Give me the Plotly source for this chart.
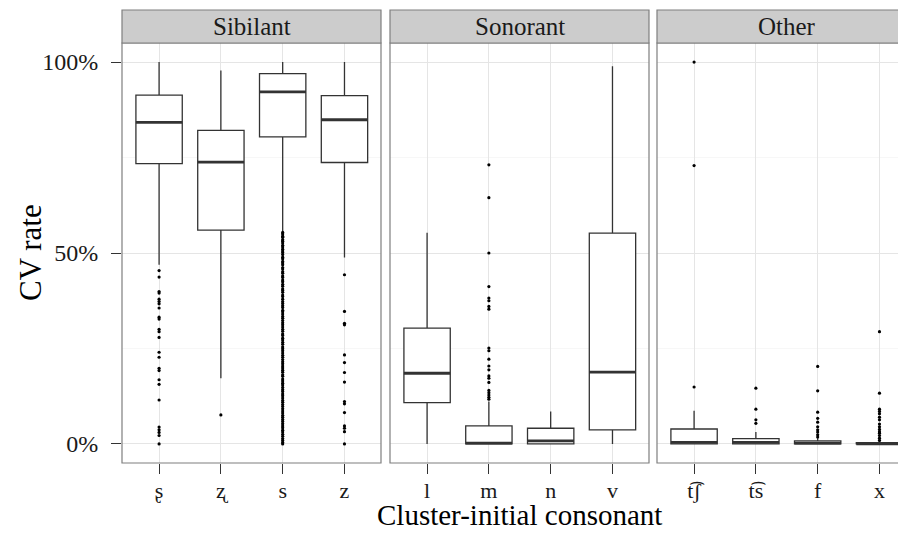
import plotly.graph_objects as go

FONT = "Liberation Serif"

facets = ["Sibilant", "Sonorant", "Other"]
labels = {
    "Sibilant": ["ʂ", "ʐ", "s", "z"],
    "Sonorant": ["l", "m", "n", "v"],
    "Other": ["t͡ʃ", "t͡s", "f", "x"],
}
# box statistics (percent)
q1 = {
    "Sibilant": [73.4, 56.0, 80.4, 73.7],
    "Sonorant": [10.8, 0.0, 0.0, 3.7],
    "Other": [0.0, 0.0, 0.0, 0.0],
}
median = {
    "Sibilant": [84.2, 73.8, 92.2, 84.9],
    "Sonorant": [18.5, 0.2, 0.8, 18.8],
    "Other": [0.4, 0.4, 0.2, 0.0],
}
q3 = {
    "Sibilant": [91.35, 82.1, 97.0, 91.2],
    "Sonorant": [30.3, 4.7, 4.1, 55.2],
    "Other": [3.9, 1.4, 0.8, 0.3],
}
lower = {
    "Sibilant": [46.9, 17.2, 55.6, 48.8],
    "Sonorant": [0.0, 0.0, 0.0, 0.0],
    "Other": [0.0, 0.0, 0.0, 0.0],
}
upper = {
    "Sibilant": [100.0, 97.8, 100.0, 100.0],
    "Sonorant": [55.3, 11.1, 8.5, 98.9],
    "Other": [8.7, 3.1, 1.5, 0.7],
}
outliers = {
    "Sibilant": [
        [45.4, 43.7, 39.9, 39.5, 37.9, 37.3, 36.7, 35.6, 33.2, 32.7, 30.0, 29.4,
         27.9, 24.0, 22.7, 19.8, 19.2, 16.8, 15.6, 11.5, 4.4, 3.7, 3.0, 2.2, 0.0],
        [7.6],
        [55.4, 55.0, 54.4, 54.1, 53.5, 53.1, 52.6, 52.0, 51.6, 51.0, 50.5, 50.1,
         49.6, 48.9, 48.5, 47.8, 47.4, 46.9, 46.2, 45.8, 45.1, 44.7, 44.0, 43.6,
         42.9, 42.5, 41.8, 41.3, 40.6, 40.2, 39.7, 39.0, 38.6, 37.9, 37.3, 36.8,
         36.2, 35.7, 35.0, 34.6, 34.0, 33.4, 32.9, 32.3, 31.7, 31.2, 30.6, 30.0,
         29.5, 28.8, 28.4, 27.7, 27.2, 26.6, 26.1, 25.4, 24.9, 24.4, 23.8, 23.2,
         22.7, 22.1, 21.5, 21.0, 20.4, 19.9, 19.3, 18.8, 18.1, 17.7, 17.0, 16.5,
         15.9, 15.4, 14.8, 14.2, 13.7, 13.1, 12.6, 12.0, 11.4, 10.9, 10.3, 9.8,
         9.2, 8.6, 8.1, 7.5, 7.0, 6.4, 5.9, 5.3, 4.7, 4.2, 3.6, 3.1, 2.5, 2.0,
         1.4, 0.9, 0.4, 0.0],
        [44.3, 34.7, 31.6, 31.2, 23.3, 21.3, 18.7, 16.2, 11.1, 10.5, 8.2, 4.7,
         4.1, 3.2, 0.0],
    ],
    "Sonorant": [
        [],
        [73.1, 64.5, 50.0, 41.2, 38.2, 37.5, 36.0, 35.3, 25.1, 24.4, 22.2, 20.4,
         19.4, 17.8, 17.2, 16.1, 14.0, 13.4, 12.8, 12.2, 11.7],
        [],
        [],
    ],
    "Other": [
        [100.0, 72.9, 14.9],
        [14.6, 9.1, 6.3, 5.4],
        [20.3, 13.9, 8.3, 6.7, 5.7, 4.5, 3.7, 3.1, 2.4, 1.8],
        [29.4, 13.3, 9.1, 8.5, 7.9, 7.0, 6.3, 5.2, 4.5, 3.8, 3.2, 2.8, 2.2, 1.5, 0.9],
    ],
}
y_ticks = [0, 50, 100]
y_ticktext = ["0%", "50%", "100%"]

# the page body has an 8px margin, so the figure is placed at (8, 8)
OFF = 8
W, H = 906 - OFF, 533 - OFF
BOX_W = 0.75
LINE = "#333333"


def px(v):
    return v - OFF


# panel geometry in (reference) pixels
px_left = [122, 390, 657]
px_right = [381, 649, 906]
panel_top, panel_bottom = 43, 463
strip_top = 10
unit = 61.8

fig = go.Figure()

for k, fac in enumerate(facets):
    xa = "x" if k == 0 else f"x{k+1}"
    ya = "y" if k == 0 else f"y{k+1}"
    pos = list(range(1, len(labels[fac]) + 1))
    fig.add_trace(go.Box(
        x=pos, q1=q1[fac], median=median[fac], q3=q3[fac],
        lowerfence=lower[fac], upperfence=upper[fac],
        width=BOX_W, whiskerwidth=0, fillcolor="white",
        line=dict(color=LINE, width=1.3), boxpoints=False,
        xaxis=xa, yaxis=ya, showlegend=False, hoverinfo="skip",
    ))
    mx, my = [], []
    for p, m in zip(pos, median[fac]):
        mx += [p - BOX_W / 2, p + BOX_W / 2, None]
        my += [m, m, None]
    fig.add_trace(go.Scatter(x=mx, y=my, mode="lines",
                             line=dict(color=LINE, width=2.8),
                             xaxis=xa, yaxis=ya, showlegend=False, hoverinfo="skip"))
    ox, oy = [], []
    for p, vals in zip(pos, outliers[fac]):
        ox += [p] * len(vals)
        oy += vals
    fig.add_trace(go.Scatter(x=ox, y=oy, mode="markers",
                             marker=dict(color="black", size=3.2),
                             xaxis=xa, yaxis=ya, showlegend=False, hoverinfo="skip"))

layout = dict(
    width=W, height=H, margin=dict(l=0, r=0, t=0, b=0),
    paper_bgcolor="white", plot_bgcolor="white",
    font=dict(family=FONT, color="black"),
    showlegend=False,
)
ydom = [(H - px(panel_bottom)) / H, (H - px(panel_top)) / H]
for k, fac in enumerate(facets):
    suffix = "" if k == 0 else str(k + 1)
    d0 = px(px_left[k]) / W
    d1 = min(px(px_right[k]) / W, 1.0)
    xmax = 0.4 + (px_right[k] - px_left[k]) / unit
    layout["xaxis" + suffix] = dict(
        domain=[d0, d1], range=[0.4, xmax],
        tickmode="array", tickvals=list(range(1, 5)), ticktext=labels[fac],
        ticks="outside", ticklen=10, tickwidth=1.3, tickcolor=LINE,
        tickfont=dict(family=FONT, size=22, color="#1a1a1a"),
        showgrid=True, gridcolor="#E5E5E5", gridwidth=1,
        zeroline=False, showline=False, anchor="y" + suffix,
        ticklabelstandoff=-2,
    )
    yd = dict(
        domain=ydom, range=[-5, 105], anchor="x" + suffix,
        tickmode="array", tickvals=y_ticks, ticktext=y_ticktext,
        showgrid=True, gridcolor="#E5E5E5", gridwidth=1,
        minor=dict(tickvals=[25, 75], showgrid=True, gridcolor="#F7F7F7", ticks=""),
        zeroline=False, showline=False,
    )
    if k == 0:
        yd.update(ticks="outside", ticklen=10, tickwidth=1.3, tickcolor=LINE,
                  tickfont=dict(family=FONT, size=24, color="#1a1a1a"),
                  ticklabelstandoff=8)
    else:
        yd.update(showticklabels=False, ticks="", matches="y")
    layout["yaxis" + suffix] = yd

shapes = []
annotations = []
for k, fac in enumerate(facets):
    x0 = px(px_left[k]) / W
    x1 = px(px_right[k]) / W if k < 2 else 1.05
    shapes.append(dict(type="rect", xref="paper", yref="paper",
                       x0=x0, x1=x1, y0=ydom[0], y1=ydom[1],
                       line=dict(color="#7F7F7F", width=1.2), fillcolor="rgba(0,0,0,0)",
                       layer="above"))
    shapes.append(dict(type="rect", xref="paper", yref="paper",
                       x0=x0, x1=x1, y0=ydom[1], y1=(H - px(strip_top)) / H,
                       line=dict(color="#7F7F7F", width=1.2), fillcolor="#CCCCCC",
                       layer="above"))
    cx = px((px_left[k] + px_left[k] + 4.2 * unit) / 2) / W
    annotations.append(dict(text=fac, x=cx, y=(H - px((strip_top + panel_top) / 2)) / H,
                            xref="paper", yref="paper", showarrow=False,
                            xanchor="center", yanchor="middle",
                            font=dict(family=FONT, size=25, color="#1a1a1a")))

annotations.append(dict(text="CV rate", x=px(30) / W, y=(H - px((panel_top + panel_bottom) / 2)) / H,
                        xref="paper", yref="paper", showarrow=False, textangle=-90,
                        xanchor="center", yanchor="middle",
                        font=dict(family=FONT, size=31, color="black")))
annotations.append(dict(text="Cluster-initial consonant", x=px(519.5) / W, y=0,
                        xref="paper", yref="paper", showarrow=False,
                        xanchor="center", yanchor="bottom",
                        font=dict(family=FONT, size=29, color="black")))
layout["shapes"] = shapes
layout["annotations"] = annotations
fig.update_layout(**layout)

fig.write_html("out.html")
